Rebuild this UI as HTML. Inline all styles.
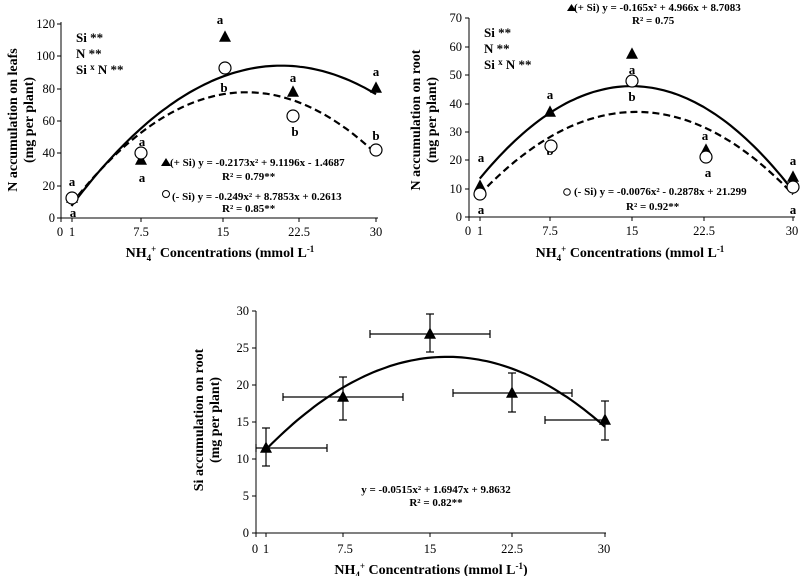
<!DOCTYPE html>
<html><head><meta charset="utf-8"><style>
html,body{margin:0;padding:0;background:#fff}
svg{display:block;font-family:"Liberation Serif",serif}
.b{font-weight:bold}
</style></head><body>
<svg id="s" width="800" height="576" viewBox="0 0 800 576" xmlns="http://www.w3.org/2000/svg">
<g font-family="Liberation Serif" fill="#000">
<!-- chart 1 -->
<g font-size="12.5" text-anchor="end">
<text x="55" y="222">0</text><text x="55" y="190">20</text><text x="55" y="157">40</text><text x="55" y="125">60</text><text x="55" y="93">80</text><text x="55" y="60">100</text><text x="55" y="28">120</text>
</g>
<g font-size="12.5" text-anchor="middle">
<text x="60" y="236">0</text><text x="72" y="236">1</text><text x="141" y="236">7.5</text><text x="223" y="236">15</text><text x="299" y="236">22.5</text><text x="376" y="236">30</text>
</g>
<text x="220" y="257" font-size="14" font-weight="bold" text-anchor="middle">NH<tspan font-size="9" dy="4">4</tspan><tspan font-size="9" dy="-9">+</tspan><tspan dy="5"> Concentrations (mmol L</tspan><tspan font-size="9" dy="-5">-1</tspan></text>
<text transform="translate(17,120) rotate(-90)" font-size="14" font-weight="bold" text-anchor="middle">N accumulation on leafs</text>
<text transform="translate(33,120) rotate(-90)" font-size="14" font-weight="bold" text-anchor="middle">(mg  per plant)</text>
<g font-size="13" font-weight="bold"><text x="76" y="42">Si **</text><text x="76" y="58">N **</text><text x="76" y="74">Si <tspan font-size="9" dy="-4">x</tspan><tspan dy="4"> N **</tspan></text></g>
<g font-size="11" font-weight="bold">
<text x="170" y="166">(+ Si) y = -0.2173x² + 9.1196x - 1.4687</text>
<text x="222" y="180">R² = 0.79**</text>
<text x="172" y="200">(- Si)  y = -0.249x² + 8.7853x + 0.2613</text>
<text x="222" y="212">R² = 0.85**</text>
</g>
<path d="M161 166 l5 -8 l5 8z"/><circle cx="166" cy="194" r="3.5" fill="none" stroke="#000"/>
<g font-size="13" font-weight="bold" text-anchor="middle">
<text x="72" y="186">a</text><text x="73" y="217">a</text><text x="142" y="146">a</text><text x="142" y="182">a</text><text x="220" y="24">a</text><text x="224" y="92">b</text><text x="293" y="82">a</text><text x="295" y="136">b</text><text x="376" y="76">a</text><text x="376" y="140">b</text>
</g>
<!-- chart 2 -->
<g font-size="12.5" text-anchor="end">
<text x="462" y="221">0</text><text x="462" y="193">10</text><text x="462" y="164">20</text><text x="462" y="136">30</text><text x="462" y="108">40</text><text x="462" y="79">50</text><text x="462" y="51">60</text><text x="462" y="22">70</text>
</g>
<g font-size="12.5" text-anchor="middle">
<text x="468" y="235">0</text><text x="480" y="235">1</text><text x="550" y="235">7.5</text><text x="632" y="235">15</text><text x="704" y="235">22.5</text><text x="792" y="235">30</text>
</g>
<text x="630" y="257" font-size="14" font-weight="bold" text-anchor="middle">NH<tspan font-size="9" dy="4">4</tspan><tspan font-size="9" dy="-9">+</tspan><tspan dy="5"> Concentrations (mmol L</tspan><tspan font-size="9" dy="-5">-1</tspan></text>
<text transform="translate(420,120) rotate(-90)" font-size="14" font-weight="bold" text-anchor="middle">N accumulation on root</text>
<text transform="translate(436,120) rotate(-90)" font-size="14" font-weight="bold" text-anchor="middle">(mg  per plant)</text>
<g font-size="13" font-weight="bold"><text x="484" y="37">Si **</text><text x="484" y="53">N **</text><text x="484" y="69">Si <tspan font-size="9" dy="-4">x</tspan><tspan dy="4"> N **</tspan></text></g>
<g font-size="11" font-weight="bold">
<text x="574" y="11">(+ Si) y = -0.165x² + 4.966x + 8.7083</text>
<text x="632" y="24">R² = 0.75</text>
<text x="574" y="195">(- Si) y = -0.0076x² - 0.2878x + 21.299</text>
<text x="626" y="210">R² = 0.92**</text>
</g>
<path d="M567 11 l4.5 -7 l4.5 7z"/><circle cx="567" cy="192" r="3.3" fill="none" stroke="#000"/>
<g font-size="13" font-weight="bold" text-anchor="middle">
<text x="481" y="162">a</text><text x="481" y="214">a</text><text x="550" y="99">a</text><text x="550" y="155">b</text><text x="632" y="74">a</text><text x="632" y="101">b</text><text x="705" y="140">a</text><text x="708" y="177">a</text><text x="793" y="165">a</text><text x="793" y="214">a</text>
</g>
<!-- chart 3 -->
<g font-size="12.5" text-anchor="end">
<text x="249" y="537">0</text><text x="249" y="500">5</text><text x="249" y="463">10</text><text x="249" y="426">15</text><text x="249" y="389">20</text><text x="249" y="352">25</text><text x="249" y="315">30</text>
</g>
<g font-size="12.5" text-anchor="middle">
<text x="255" y="553">0</text><text x="266" y="553">1</text><text x="345" y="553">7.5</text><text x="430" y="553">15</text><text x="512" y="553">22.5</text><text x="604" y="553">30</text>
</g>
<text x="431" y="574" font-size="14" font-weight="bold" text-anchor="middle">NH<tspan font-size="9" dy="4">4</tspan><tspan font-size="9" dy="-9">+</tspan><tspan dy="5"> Concentrations (mmol L</tspan><tspan font-size="9" dy="-5">-1</tspan><tspan dy="5">)</tspan></text>
<text transform="translate(203,420) rotate(-90)" font-size="14" font-weight="bold" text-anchor="middle">Si accumulation on root</text>
<text transform="translate(219,420) rotate(-90)" font-size="14" font-weight="bold" text-anchor="middle">(mg  per plant)</text>
<g font-size="11" font-weight="bold" text-anchor="middle">
<text x="436" y="493">y = -0.0515x² + 1.6947x + 9.8632</text>
<text x="436" y="506">R² = 0.82**</text>
</g>
</g>
<g id="dyn"></g>
</svg>
<script>
var NS="http://www.w3.org/2000/svg",g=document.getElementById('dyn');
function el(t,a){var e=document.createElementNS(NS,t);for(var k in a)e.setAttribute(k,a[k]);g.appendChild(e);return e;}
function line(x1,y1,x2,y2,w){el('line',{x1:x1,y1:y1,x2:x2,y2:y2,stroke:'#000','stroke-width':w||1});}
function tri(x,y,s){s=s||6;el('path',{d:'M'+(x-s)+' '+(y+s*0.8)+'L'+x+' '+(y-s*1.1)+'L'+(x+s)+' '+(y+s*0.8)+'Z',fill:'#000'});}
function circ(x,y){el('circle',{cx:x,cy:y,r:6,fill:'#fff',stroke:'#000','stroke-width':1.2});}
function curve(f,x0,x1,px,py,dash){var d='';for(var i=0;i<=80;i++){var x=x0+(x1-x0)*i/80;d+=(i?'L':'M')+px(x).toFixed(1)+' '+py(f(x)).toFixed(1);}
 var a={d:d,fill:'none',stroke:'#000','stroke-width':2.2};if(dash)a['stroke-dasharray']='7,4';el('path',a);}
function axes(x0,y0,x1,y1,yt,xt){line(x0,y0,x0,y1);line(x0,y0,x1,y0);yt.forEach(function(y){line(x0-4,y,x0,y);});xt.forEach(function(x){line(x,y0,x,y0+4);});}
// chart1
axes(61,218,378,22,[218,186,153,121,89,56,24],[61,72,141,223,299,376]);
var px1=function(x){return 61+x*10.5},py1=function(v){return 218-v*1.617};
curve(function(x){return -0.2173*x*x+9.1196*x-1.4687},1,30,px1,py1);
curve(function(x){return -0.249*x*x+8.7853*x+0.2613},1,30,px1,py1,1);
tri(72,198);circ(72,198);tri(141,160);circ(141,153);tri(225,37);circ(225,68);tri(293,92);circ(293,116);tri(376,88);circ(376,150);
// chart2
axes(469,217,795,18,[217,189,160,132,104,75,47,18],[469,480,550,632,704,793]);
var px2=function(x){return 469+x*10.8},py2=function(v){return 217-v*2.84};
curve(function(x){return -0.165*x*x+4.966*x+8.7083},1,30,px2,py2);
curve(function(x){return 37-0.138*(x-15.5)*(x-15.5)},1,30,px2,py2,1);
tri(480,186);circ(480,194);tri(550,112);circ(551,146);tri(632,54);circ(632,81);tri(706,150);circ(706,157);tri(793,177);circ(793,187);
// chart3
axes(256,533,606,311,[533,496,459,422,385,348,311],[256,266,343,430,512,605]);
var px3=function(x){return 256+x*11.63},py3=function(v){return 533-v*7.4};
curve(function(x){return -0.0515*x*x+1.6947*x+9.8632},1,30,px3,py3);
[[266,448,428,466,256,327],[343,397,377,420,283,403],[430,334,314,352,370,490],[512,393,373,412,453,572],[605,420,401,440,545,605]].forEach(function(p){
 line(p[0],p[2],p[0],p[3],1.2);line(p[0]-4,p[2],p[0]+4,p[2],1.2);line(p[0]-4,p[3],p[0]+4,p[3],1.2);
 line(p[4],p[1],p[5],p[1],1.2);line(p[4],p[1]-4,p[4],p[1]+4,1.2);line(p[5],p[1]-4,p[5],p[1]+4,1.2);
 tri(p[0],p[1],6);});
</script>
</body></html>
